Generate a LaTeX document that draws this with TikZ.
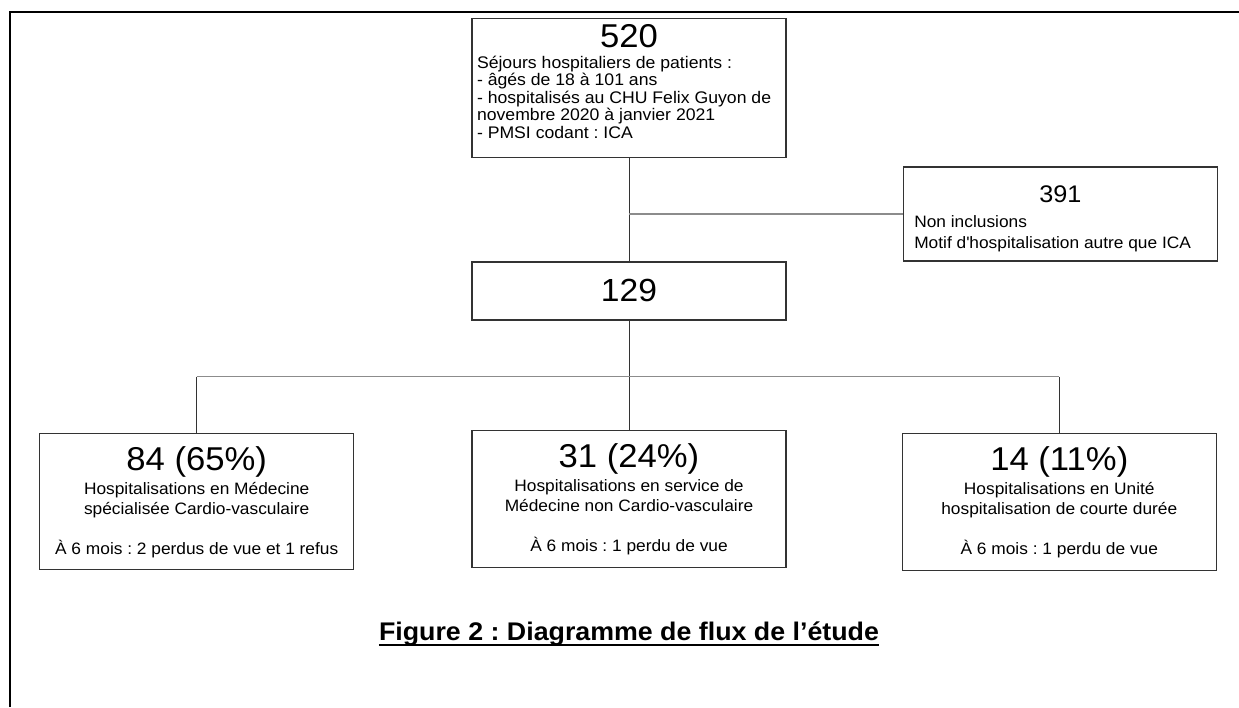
\documentclass[tikz,border=0pt]{standalone}
\usepackage{fontspec}
\setmainfont{Liberation Sans}[FakeStretch=1.05]
\usetikzlibrary{positioning}
\frenchspacing

\newcommand{\bignum}{\fontsize{33}{36}\selectfont}
\newcommand{\midnum}{\fontsize{24}{28}\selectfont}
\newcommand{\bodytext}{\fontsize{16.5}{20}\selectfont}

\begin{document}
\begin{tikzpicture}[x=1pt, y=-1pt]
  \tikzset{box/.style={draw=black!80, line width=1.3pt, minimum width=314pt, inner sep=0pt},
           link/.style={draw=black!80, line width=0.9pt},
           branch/.style={draw=black!45, line width=1.4pt}}
  \useasboundingbox (0,0) rectangle (1239,707);
  \draw[line width=2.6pt] (10,707) -- (10,12) -- (1239,12);

  \node[box, anchor=north, inner xsep=5pt] (n520) at (629,18) {\parbox[t][139pt][t]{304pt}{\fontsize{16.8}{17.5}\selectfont\vspace*{6pt}%
    \hspace*{\fill}{\bignum 520}\hspace*{\fill}\\[3pt]
    Séjours hospitaliers de patients :\\
    - âgés de 18 à 101 ans\\
    - hospitalisés au CHU Felix Guyon de\\
    novembre 2020 à janvier 2021\\
    - PMSI codant : ICA}};
  \node[box, below right=8pt and 116pt of n520.south east, inner xsep=11pt] (n391) {\parbox[t][94pt][t]{292pt}{\fontsize{16.5}{21.5}\selectfont\vspace*{19pt}%
    \hspace*{\fill}{\midnum 391}\hspace*{\fill}\\[3pt]
    Non inclusions\\
    Motif d\textquotesingle hospitalisation autre que ICA}};
  \node[box, below=103pt of n520, minimum height=58pt, font=\fontsize{32}{36}\selectfont] (n129) {129};

  \node[box, below=109pt of n129, minimum height=137pt, align=center, font=\bodytext] (n31)
    {{\bignum 31 (24\%)}\\[4pt] Hospitalisations en service de\\ Médecine non Cardio-vasculaire\\[20pt] À 6 mois : 1 perdu de vue};
  \node[box, left=117pt of n31, yshift=-3pt, minimum height=136pt, align=center, font=\bodytext] (n84)
    {{\bignum 84 (65\%)}\\[4pt] Hospitalisations en Médecine\\ spécialisée Cardio-vasculaire\\[20pt] À 6 mois : 2 perdus de vue et 1 refus};
  \node[box, right=115pt of n31, yshift=-3pt, minimum height=137pt, align=center, font=\bodytext] (n14)
    {{\bignum 14 (11\%)}\\[4pt] Hospitalisations en Unité\\ hospitalisation de courte durée\\[20pt] À 6 mois : 1 perdu de vue};

  \coordinate (fork) at (n520 |- n391.west);
  \coordinate[below=56pt of n129.south] (split);

  \draw[link] (n520) -- (n129);
  \draw[branch] (fork) -- (n391);
  \draw[link] (n129) -- (n31);
  \draw[branch] (n84 |- split) -- (n14 |- split);
  \draw[link] (n84 |- split) -- (n84);
  \draw[link] (n14 |- split) -- (n14);

  \node[inner sep=0pt, anchor=base, font=\fontsize{25.5}{28}\selectfont\bfseries] (caption) at (629,640) {Figure 2 : Diagramme de flux de l’étude};
  \draw[line width=2pt] ([yshift=-5pt]caption.base west) -- ([yshift=-5pt]caption.base east);
\end{tikzpicture}
\end{document}
